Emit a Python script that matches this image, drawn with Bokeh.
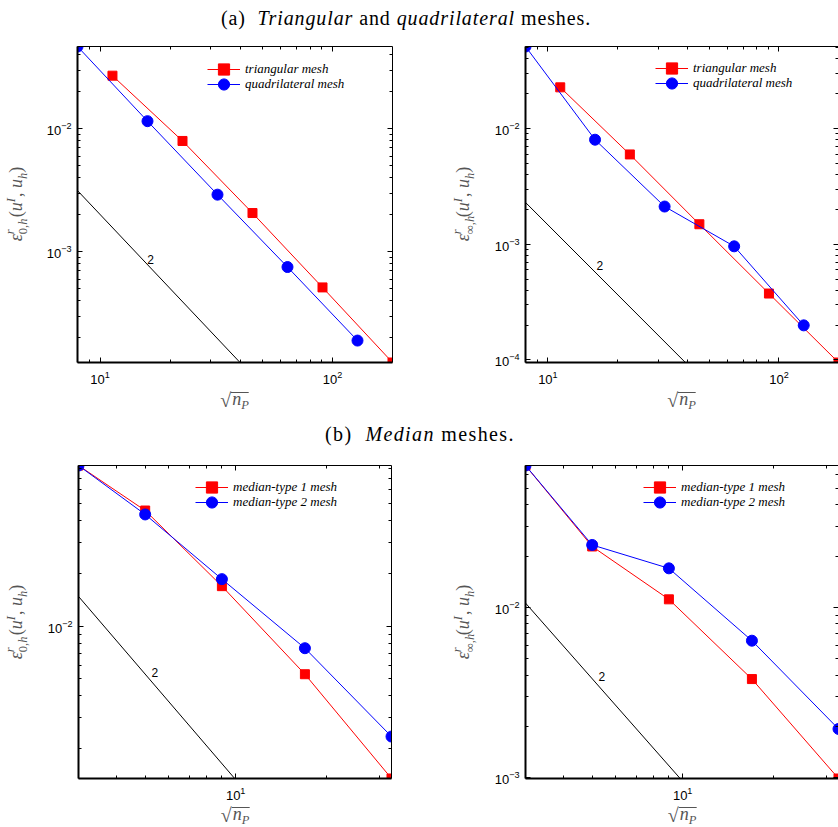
import math
from bokeh.plotting import figure
from bokeh.models import (Range1d, LogAxis, FixedTicker, Legend, LegendItem, Label,
                          Div, LogTickFormatter)
from bokeh.layouts import column, row
from bokeh.embed import file_html
from bokeh.resources import INLINE

# ---------------- data ----------------
# (a) triangular / quadrilateral meshes
tri_x = [11.31, 22.63, 45.25, 90.51, 181.02]
quad_x = [8, 16, 32, 64, 128]
tri_e0 = [0.0271, 0.00798, 0.00207, 5.14e-4, 1.26e-4]
quad_e0 = [0.0468, 0.01156, 0.00292, 7.53e-4, 1.90e-4]
tri_einf = [0.02275, 0.00598, 0.00149, 3.75e-4, 9.5e-5]
quad_einf = [0.0513, 0.00802, 0.00212, 9.6e-4, 1.99e-4]
# (b) median meshes
med_x = [3, 5, 9, 17, 33]
med1_e0 = [0.0828, 0.0458, 0.01694, 0.00532, 0.00135]
med2_e0 = [0.0828, 0.0435, 0.01858, 0.00749, 0.002344]
med1_einf = [0.0682, 0.0228, 0.01115, 0.00379, 9.87e-4]
med2_einf = [0.0682, 0.02327, 0.01696, 0.00637, 0.00193]
# slope-2 reference lines
ref_a0_x, ref_a0_y = [8, 40], [3.15e-3, 1.26e-4]
ref_ainf_x, ref_ainf_y = [8, 40], [2.3e-3, 9.2e-5]
ref_b0_x, ref_b0_y = [3, 10], [0.0148, 0.00133]
ref_binf_x, ref_binf_y = [3, 10], [0.0106, 9.5e-4]
slope_text = "2"
slope_a0 = (16.5, 8.7e-4)
slope_ainf = (16.8, 6.5e-4)
slope_b0 = (5.38, 5.46e-3)
slope_binf = (5.38, 3.93e-3)
legend_a = ["triangular mesh", "quadrilateral mesh"]
legend_b = ["median-type 1 mesh", "median-type 2 mesh"]
title_a = '(a)&nbsp;&nbsp;<i>Triangular</i> and <i>quadrilateral</i> meshes.'
title_b = '(b)&nbsp;&nbsp;<i>Median</i> meshes.'

MAJOR = [10.0 ** k for k in range(-6, 4)]
MINOR = [m * 10.0 ** k for k in range(-6, 4) for m in range(2, 10)]

RED = "#ff0000"
BLUE = "#0000ff"
GREY = "#555555"
SERIF = "'Liberation Serif'"


# ---------------- helpers ----------------
def ylabel_div(width, height, cx, cy, sub0):
    sup = '<span style="position:absolute;left:0;top:-17px;font-size:12.5px;line-height:12px;font-style:italic">r</span>'
    sub = (f'<span style="position:absolute;left:0;top:-4.5px;font-size:12.5px;line-height:12px">{sub0}'
           '<i>h</i></span>')
    stack = f'<span style="display:inline-block;position:relative;width:17px;height:1px">{sup}{sub}</span>'
    txt = (f'<i>ε</i>{stack}(<i>u</i>'
           '<span style="position:relative;top:-7.5px;font-size:12.5px;font-style:italic;margin-right:1px">I</span>'
           ',&nbsp;<i>u</i>'
           '<span style="position:relative;top:4.5px;font-size:12.5px;font-style:italic">h</span>)')
    html = (f'<div style="position:relative;width:{width}px;height:{height}px;overflow:visible">'
            f'<span style="position:absolute;left:{cx}px;top:{cy}px;display:inline-block;'
            f'white-space:nowrap;font-family:{SERIF};font-size:18px;line-height:20px;color:{GREY};'
            f'transform:translate(-50%,-50%) rotate(-90deg)">{txt}</span></div>')
    return Div(text=html, width=width, height=height, margin=0)


def xlabel_div(width, height, cx, top):
    txt = ('<span style="position:relative;top:2px;font-size:20px">√</span>'
           '<span style="display:inline-block;border-top:1px solid ' + GREY + ';line-height:13px;padding-left:1px">'
           '<i>n</i><span style="position:relative;top:3.5px;font-size:12.5px;font-style:italic">P</span></span>')
    html = (f'<div style="position:relative;width:{width}px;height:{height}px">'
            f'<span style="position:absolute;left:{cx}px;top:{top}px;display:inline-block;'
            f'white-space:nowrap;font-family:{SERIF};font-size:18px;line-height:18px;color:{GREY};'
            f'transform:translate(-50%,0)">{txt}</span></div>')
    return Div(text=html, width=width, height=height, margin=0)


def make_panel(width, height, bl, br, bt, bb, xr, yr):
    p = figure(width=width, height=height, x_axis_type="log", y_axis_type="log",
               x_range=Range1d(*xr), y_range=Range1d(*yr),
               output_backend="svg", toolbar_location=None,
               min_border_left=bl, min_border_right=br,
               min_border_top=bt, min_border_bottom=bb)
    p.grid.visible = False
    p.outline_line_color = None
    p.background_fill_color = "white"
    p.border_fill_color = "white"
    top = LogAxis()
    right = LogAxis()
    p.add_layout(top, "above")
    p.add_layout(right, "right")
    for ax, main in ((p.below[0], True), (p.left[0], True), (top, False), (right, False)):
        ax.ticker = FixedTicker(ticks=MAJOR, minor_ticks=MINOR)
        ax.formatter = LogTickFormatter()
        ax.major_tick_in = 5
        ax.major_tick_out = 0
        ax.minor_tick_in = 3
        ax.minor_tick_out = 0
        ax.major_tick_line_color = "black"
        ax.minor_tick_line_color = "black"
        ax.axis_line_color = "black"
        ax.axis_label = None
        if main:
            ax.axis_line_width = 2
            ax.major_label_text_font = "Liberation Sans"
            ax.major_label_text_font_size = "13px"
            ax.major_label_text_color = "black"
            ax.major_label_standoff = 6
        else:
            ax.axis_line_width = 1
            ax.major_label_text_font_size = "1px"
            ax.major_label_text_color = None
            ax.major_label_standoff = 0
    p.below[0].major_label_standoff = 8
    return p


def one_legend(label, rends, loc):
    return Legend(items=[LegendItem(label=label, renderers=rends)],
                  location=loc, orientation="vertical", padding=0, margin=0, spacing=0,
                  glyph_width=33, glyph_height=28, label_height=12, label_standoff=5,
                  label_text_font="Liberation Serif", label_text_font_style="italic",
                  label_text_font_size="13px", label_text_color="black",
                  border_line_color=None, background_fill_alpha=0)


def fill_panel(p, x1, y1, x2, y2, rx, ry, spos, labels, lx, ly_red, ly_blue):
    p.line(rx, ry, line_color="black", line_width=1)
    l1 = p.line(x1, y1, line_color=RED, line_width=1)
    s1 = p.scatter(x1, y1, marker="square", size=9, fill_color=RED, line_color=RED)
    l2 = p.line(x2, y2, line_color=BLUE, line_width=1)
    s2 = p.scatter(x2, y2, marker="circle", size=11, fill_color=BLUE, line_color=BLUE)
    p.add_layout(Label(x=spos[0], y=spos[1], text=slope_text, text_font="Liberation Sans",
                       text_font_size="12px", text_align="center", text_baseline="middle",
                       text_color="black"))
    p.add_layout(one_legend(labels[0], [l1, s1], (lx, ly_red)))
    p.add_layout(one_legend(labels[1], [l2, s2], (lx, ly_blue)))


# ---- top row (page y 30..413) ----
p1 = make_panel(379, 356, 37, 27, 16, 24, (min(quad_x), max(tri_x)),
                (min(tri_e0), max(quad_e0)))
fill_panel(p1, tri_x, tri_e0, quad_x, quad_e0, ref_a0_x, ref_a0_y, slope_a0, legend_a, 130, 279, 264.5)

p2 = make_panel(351, 356, 38, 0, 16, 24, (min(quad_x), max(tri_x)),
                (min(tri_einf), max(quad_einf)))
fill_panel(p2, tri_x, tri_einf, quad_x, quad_einf, ref_ainf_x, ref_ainf_y, slope_ainf, legend_a, 130, 280, 265.5)

# ---- bottom row (page y 450..826) ----
p3 = make_panel(379, 352, 38, 28, 15, 24, (min(med_x), max(med_x)),
                (min(med1_e0), max(med1_e0)))
fill_panel(p3, med_x, med1_e0, med_x, med2_e0, ref_b0_x, ref_b0_y, slope_b0, legend_b, 117, 277, 262.5)

p4 = make_panel(351, 352, 38, 0, 15, 24, (min(med_x), max(med_x)),
                (min(med1_einf), max(med1_einf)))
fill_panel(p4, med_x, med1_einf, med_x, med2_einf, ref_binf_x, ref_binf_y, slope_binf, legend_b, 118, 277, 262.5)

yl1 = ylabel_div(40, 383, 16.5, 174, "0,")
yl2 = ylabel_div(68, 383, 45, 174, "∞,")
yl3 = ylabel_div(40, 376, 16.5, 171.5, "0,")
yl4 = ylabel_div(68, 376, 45, 171.5, "∞,")
xl1 = xlabel_div(379, 27, 194.5, 3)
xl2 = xlabel_div(351, 27, 194.5, 3)
xl3 = xlabel_div(379, 24, 195, 2)
xl4 = xlabel_div(351, 24, 195, 2)

TSTYLE = ("font-family:'Liberation Serif';font-size:20px;"
          "color:black;text-align:center;white-space:nowrap;")
div_a = Div(text=f'<div style="{TSTYLE}letter-spacing:0.9px;width:812px;line-height:30px;padding-top:3px">{title_a}</div>',
            width=838, height=30, margin=0)
div_b = Div(text=f'<div style="{TSTYLE}letter-spacing:1.4px;width:836px;margin-left:2px;line-height:30px;padding-top:6px">{title_b}</div>',
            width=838, height=37, margin=0)

row1 = row(yl1, column(p1, xl1), yl2, column(p2, xl2))
row2 = row(yl3, column(p3, xl3), yl4, column(p4, xl4))
layout = column(div_a, row1, div_b, row2)

open("out.html", "w").write(file_html(layout, INLINE))
